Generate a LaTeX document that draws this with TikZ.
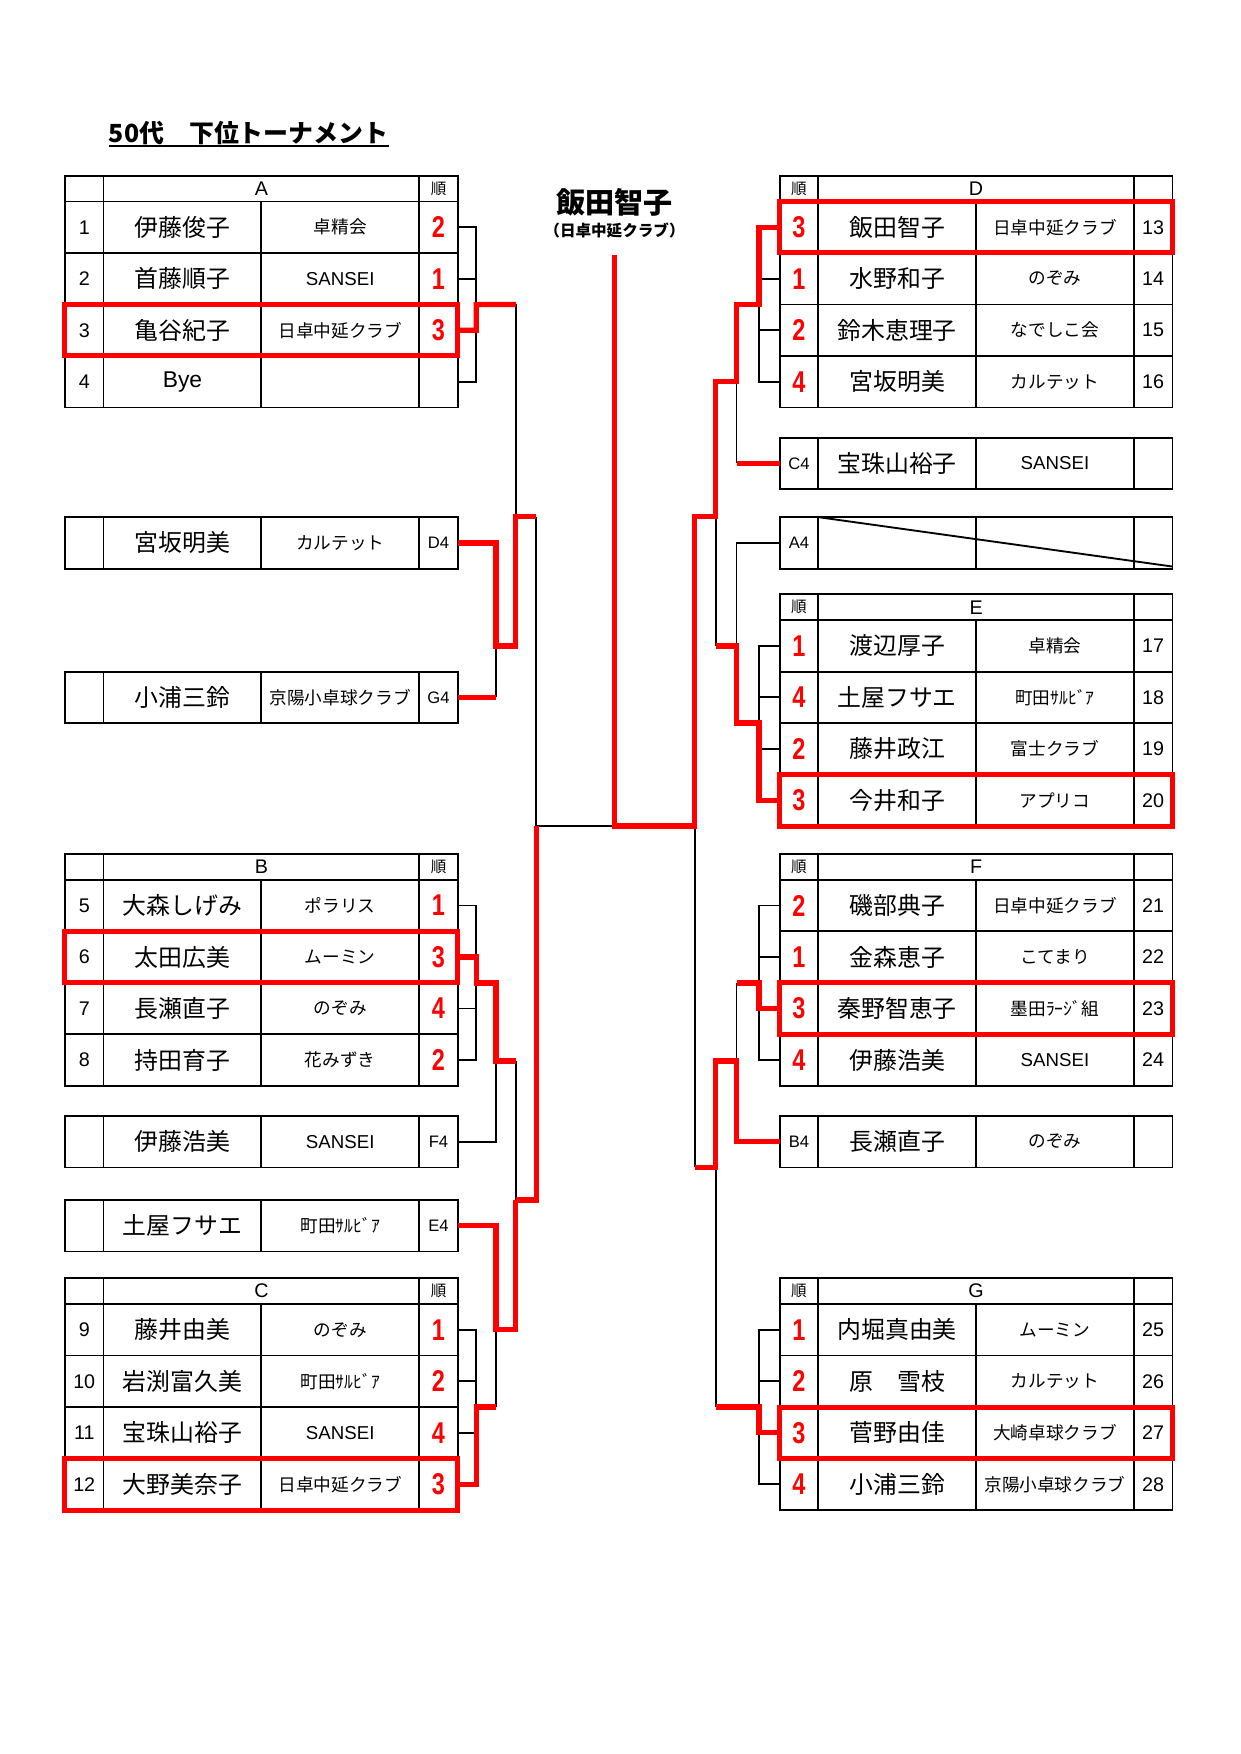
\documentclass[tikz,border=0pt]{standalone}
\usepackage{fontspec}
\setmainfont{Liberation Sans}
\newfontfamily\jp{Noto Sans CJK JP}
\newfontfamily\rk[FakeStretch=0.78]{Liberation Sans}
\usepackage{tikz}
\usetikzlibrary{positioning}
\definecolor{tred}{RGB}{255,0,0}

\begin{document}
\begin{tikzpicture}[x=0.18953mm, y=-0.18953mm]
% -------------------------------------------------
\tikzset{
  cell/.style={draw, line width=0.9pt, inner sep=0pt, outer sep=0pt, minimum height=8.72mm},
  numc/.style={cell, minimum width=6.54mm, font=\fontsize{9.5}{10}\selectfont},
  code/.style={numc, font=\fontsize{8}{9}\selectfont},
  rankc/.style={cell, minimum width=6.54mm, text=tred, font=\rk\bfseries\fontsize{14.5}{15}\selectfont},
  pname/.style={cell, minimum width=26.72mm, font=\jp\fontsize{11.5}{12}\selectfont},
  club/.style={cell, minimum width=26.72mm, font=\jp\fontsize{8.5}{9}\selectfont},
  clubl/.style={club, font=\fontsize{9}{10}\selectfont},
  hdr/.style={cell, minimum height=4.36mm, minimum width=6.54mm, font=\fontsize{9.5}{10}\selectfont},
  hdrwide/.style={hdr, minimum width=53.45mm},
  jun/.style={hdr, font=\jp\fontsize{7.5}{8}\selectfont},
  redbox/.style={draw=tred, line width=2.4pt},
  bline/.style={draw, line width=0.9pt},
  rline/.style={draw=tred, line width=2.6pt},
}
\useasboundingbox (0,0) rectangle (1108,1567);

% title and winner
\node[inner sep=0pt, anchor=base west, font=\jp\bfseries\fontsize{12}{13}\selectfont] (title) at (97,127) {50代　下位トーナメント};
\draw[line width=1pt] ([yshift=-2pt]title.base west) -- ([yshift=-2pt]title.base east);
\node[font=\jp\bfseries\fontsize{14}{14}\selectfont] (champ) at (549,181) {飯田智子};
\node[font=\jp\bfseries\fontsize{7.5}{8}\selectfont] (champc) at (549,206) {（日卓中延クラブ）};

% ---------------- left side ----------------
% A
\node[hdr, anchor=north west] (aH0) at (58,157) {};
\node[hdrwide, right=0pt of aH0] (aH) {A};
\node[jun, right=0pt of aH] (aHr) {順};
\node[numc, below=0pt of aH0] (a1n) {1}; \node[pname, right=0pt of a1n] (a1p) {伊藤俊子}; \node[club, right=0pt of a1p] (a1c) {卓精会}; \node[rankc, right=0pt of a1c] (a1r) {2};
\node[numc, below=0pt of a1n] (a2n) {2}; \node[pname, right=0pt of a2n] (a2p) {首藤順子}; \node[clubl, right=0pt of a2p] (a2c) {SANSEI}; \node[rankc, right=0pt of a2c] (a2r) {1};
\node[numc, below=0pt of a2n] (a3n) {3}; \node[pname, right=0pt of a3n] (a3p) {亀谷紀子}; \node[club, right=0pt of a3p] (a3c) {日卓中延クラブ}; \node[rankc, right=0pt of a3c] (a3r) {3};
\node[numc, below=0pt of a3n] (a4n) {4}; \node[pname, font=\fontsize{11}{12}\selectfont, right=0pt of a4n] (a4p) {Bye}; \node[club, right=0pt of a4p] (a4c) {}; \node[rankc, right=0pt of a4c] (a4r) {};

% single rows
\node[numc, anchor=north west] (sd4x) at (58,462) {}; \node[pname, right=0pt of sd4x] (sd4p) {宮坂明美}; \node[club, right=0pt of sd4p] (sd4c) {カルテット}; \node[code, right=0pt of sd4c] (sd4k) {D4};
\node[numc, anchor=north west] (sg4x) at (58,600) {}; \node[pname, right=0pt of sg4x] (sg4p) {小浦三鈴}; \node[club, right=0pt of sg4p] (sg4c) {京陽小卓球クラブ}; \node[code, right=0pt of sg4c] (sg4k) {G4};

% B
\node[hdr, anchor=north west] (bH0) at (58,763) {};
\node[hdrwide, right=0pt of bH0] (bH) {B};
\node[jun, right=0pt of bH] (bHr) {順};
\node[numc, below=0pt of bH0] (b1n) {5}; \node[pname, right=0pt of b1n] (b1p) {大森しげみ}; \node[club, right=0pt of b1p] (b1c) {ポラリス}; \node[rankc, right=0pt of b1c] (b1r) {1};
\node[numc, below=0pt of b1n] (b2n) {6}; \node[pname, right=0pt of b2n] (b2p) {太田広美}; \node[club, right=0pt of b2p] (b2c) {ムーミン}; \node[rankc, right=0pt of b2c] (b2r) {3};
\node[numc, below=0pt of b2n] (b3n) {7}; \node[pname, right=0pt of b3n] (b3p) {長瀬直子}; \node[club, right=0pt of b3p] (b3c) {のぞみ}; \node[rankc, right=0pt of b3c] (b3r) {4};
\node[numc, below=0pt of b3n] (b4n) {8}; \node[pname, right=0pt of b4n] (b4p) {持田育子}; \node[club, right=0pt of b4p] (b4c) {花みずき}; \node[rankc, right=0pt of b4c] (b4r) {2};

\node[numc, anchor=north west] (sf4x) at (58,997) {}; \node[pname, right=0pt of sf4x] (sf4p) {伊藤浩美}; \node[clubl, right=0pt of sf4p] (sf4c) {SANSEI}; \node[code, right=0pt of sf4c] (sf4k) {F4};
\node[numc, anchor=north west] (se4x) at (58,1072) {}; \node[pname, right=0pt of se4x] (se4p) {土屋フサエ}; \node[club, right=0pt of se4p] (se4c) {町田ｻﾙﾋﾞｱ}; \node[code, right=0pt of se4c] (se4k) {E4};

% C
\node[hdr, anchor=north west] (cH0) at (58,1142) {};
\node[hdrwide, right=0pt of cH0] (cH) {C};
\node[jun, right=0pt of cH] (cHr) {順};
\node[numc, below=0pt of cH0] (c1n) {9}; \node[pname, right=0pt of c1n] (c1p) {藤井由美}; \node[club, right=0pt of c1p] (c1c) {のぞみ}; \node[rankc, right=0pt of c1c] (c1r) {1};
\node[numc, below=0pt of c1n] (c2n) {10}; \node[pname, right=0pt of c2n] (c2p) {岩渕富久美}; \node[club, right=0pt of c2p] (c2c) {町田ｻﾙﾋﾞｱ}; \node[rankc, right=0pt of c2c] (c2r) {2};
\node[numc, below=0pt of c2n] (c3n) {11}; \node[pname, right=0pt of c3n] (c3p) {宝珠山裕子}; \node[clubl, right=0pt of c3p] (c3c) {SANSEI}; \node[rankc, right=0pt of c3c] (c3r) {4};
\node[numc, below=0pt of c3n] (c4n) {12}; \node[pname, right=0pt of c4n] (c4p) {大野美奈子}; \node[club, right=0pt of c4p] (c4c) {日卓中延クラブ}; \node[rankc, right=0pt of c4c] (c4r) {3};

% ---------------- right side ----------------
% D
\node[jun, anchor=north west] (dH0) at (696.5,157) {順};
\node[hdrwide, right=0pt of dH0] (dH) {D};
\node[hdr, right=0pt of dH] (dHn) {};
\node[rankc, below=0pt of dH0] (d1r) {3}; \node[pname, right=0pt of d1r] (d1p) {飯田智子}; \node[club, right=0pt of d1p] (d1c) {日卓中延クラブ}; \node[numc, right=0pt of d1c] (d1n) {13};
\node[rankc, below=0pt of d1r] (d2r) {1}; \node[pname, right=0pt of d2r] (d2p) {水野和子}; \node[club, right=0pt of d2p] (d2c) {のぞみ}; \node[numc, right=0pt of d2c] (d2n) {14};
\node[rankc, below=0pt of d2r] (d3r) {2}; \node[pname, right=0pt of d3r] (d3p) {鈴木恵理子}; \node[club, right=0pt of d3p] (d3c) {なでしこ会}; \node[numc, right=0pt of d3c] (d3n) {15};
\node[rankc, below=0pt of d3r] (d4r) {4}; \node[pname, right=0pt of d4r] (d4p) {宮坂明美}; \node[club, right=0pt of d4p] (d4c) {カルテット}; \node[numc, right=0pt of d4c] (d4n) {16};

\node[code, anchor=north west] (sc4k) at (696.5,391) {C4}; \node[pname, right=0pt of sc4k] (sc4p) {宝珠山裕子}; \node[clubl, right=0pt of sc4p] (sc4c) {SANSEI}; \node[numc, right=0pt of sc4c] (sc4x) {};
\node[code, anchor=north west] (sa4k) at (696.5,462) {A4}; \node[pname, right=0pt of sa4k] (sa4p) {}; \node[club, right=0pt of sa4p] (sa4c) {}; \node[numc, right=0pt of sa4c] (sa4x) {};
\draw[bline] (sa4p.north west) -- ([yshift=1pt]sa4x.south east);

% E
\node[jun, anchor=north west] (eH0) at (696.5,531) {順};
\node[hdrwide, right=0pt of eH0] (eH) {E};
\node[hdr, right=0pt of eH] (eHn) {};
\node[rankc, below=0pt of eH0] (e1r) {1}; \node[pname, right=0pt of e1r] (e1p) {渡辺厚子}; \node[club, right=0pt of e1p] (e1c) {卓精会}; \node[numc, right=0pt of e1c] (e1n) {17};
\node[rankc, below=0pt of e1r] (e2r) {4}; \node[pname, right=0pt of e2r] (e2p) {土屋フサエ}; \node[club, right=0pt of e2p] (e2c) {町田ｻﾙﾋﾞｱ}; \node[numc, right=0pt of e2c] (e2n) {18};
\node[rankc, below=0pt of e2r] (e3r) {2}; \node[pname, right=0pt of e3r] (e3p) {藤井政江}; \node[club, right=0pt of e3p] (e3c) {富士クラブ}; \node[numc, right=0pt of e3c] (e3n) {19};
\node[rankc, below=0pt of e3r] (e4r) {3}; \node[pname, right=0pt of e4r] (e4p) {今井和子}; \node[club, right=0pt of e4p] (e4c) {アプリコ}; \node[numc, right=0pt of e4c] (e4n) {20};

% F
\node[jun, anchor=north west] (fH0) at (696.5,763) {順};
\node[hdrwide, right=0pt of fH0] (fH) {F};
\node[hdr, right=0pt of fH] (fHn) {};
\node[rankc, below=0pt of fH0] (f1r) {2}; \node[pname, right=0pt of f1r] (f1p) {磯部典子}; \node[club, right=0pt of f1p] (f1c) {日卓中延クラブ}; \node[numc, right=0pt of f1c] (f1n) {21};
\node[rankc, below=0pt of f1r] (f2r) {1}; \node[pname, right=0pt of f2r] (f2p) {金森恵子}; \node[club, right=0pt of f2p] (f2c) {こてまり}; \node[numc, right=0pt of f2c] (f2n) {22};
\node[rankc, below=0pt of f2r] (f3r) {3}; \node[pname, right=0pt of f3r] (f3p) {秦野智恵子}; \node[club, right=0pt of f3p] (f3c) {墨田ﾗｰｼﾞ組}; \node[numc, right=0pt of f3c] (f3n) {23};
\node[rankc, below=0pt of f3r] (f4r) {4}; \node[pname, right=0pt of f4r] (f4p) {伊藤浩美}; \node[clubl, right=0pt of f4p] (f4c) {SANSEI}; \node[numc, right=0pt of f4c] (f4n) {24};

\node[code, anchor=north west] (sb4k) at (696.5,997) {B4}; \node[pname, right=0pt of sb4k] (sb4p) {長瀬直子}; \node[club, right=0pt of sb4p] (sb4c) {のぞみ}; \node[numc, right=0pt of sb4c] (sb4x) {};

% G
\node[jun, anchor=north west] (gH0) at (696.5,1142) {順};
\node[hdrwide, right=0pt of gH0] (gH) {G};
\node[hdr, right=0pt of gH] (gHn) {};
\node[rankc, below=0pt of gH0] (g1r) {1}; \node[pname, right=0pt of g1r] (g1p) {内堀真由美}; \node[club, right=0pt of g1p] (g1c) {ムーミン}; \node[numc, right=0pt of g1c] (g1n) {25};
\node[rankc, below=0pt of g1r] (g2r) {2}; \node[pname, right=0pt of g2r] (g2p) {原　雪枝}; \node[club, right=0pt of g2p] (g2c) {カルテット}; \node[numc, right=0pt of g2c] (g2n) {26};
\node[rankc, below=0pt of g2r] (g3r) {3}; \node[pname, right=0pt of g3r] (g3p) {菅野由佳}; \node[club, right=0pt of g3p] (g3c) {大崎卓球クラブ}; \node[numc, right=0pt of g3c] (g3n) {27};
\node[rankc, below=0pt of g3r] (g4r) {4}; \node[pname, right=0pt of g4r] (g4p) {小浦三鈴}; \node[club, right=0pt of g4p] (g4c) {京陽小卓球クラブ}; \node[numc, right=0pt of g4c] (g4n) {28};

% ---------------- bracket ----------------
\coordinate (lA) at (425.5,0);
\coordinate (lB) at (443,0);
\coordinate (rH) at (678,0);
\coordinate (rG) at (658,0);
\coordinate (top) at (549,228);
\coordinate (fin) at (549,738);
\coordinate (jA) at (460.8,272);
\coordinate (jDG) at (460.8,577);
\coordinate (jU) at (479.2,461.5);
\coordinate (jB) at (460.8,948);
\coordinate (jL) at (479.2,1072);
\coordinate (jEC) at (460.8,1188);
\coordinate (jD) at (639.4,341);
\coordinate (jR) at (620.6,461.5);
\coordinate (jE) at (658,577);
\coordinate (jF) at (639.4,1043);
\coordinate (jFB) at (658,948);

% black lines
\draw[bline] (a1r.east) -- (a1r.east -| lA) -- (lA |- a4r.east) -- (a4r.east);
\draw[bline] (a2r.east) -- (a2r.east -| lA);
\draw[bline] (jA) -- (jA |- jU);
\draw[bline] (sg4k.east -| lB) -- (lB |- jDG);
\draw[bline] (jU) -- (jU |- fin) -- (fin);
\draw[bline] (b1r.east) -- (b1r.east -| lA) -- (lA |- b4r.east) -- (b4r.east);
\draw[bline] (b3r.east) -- (b3r.east -| lA);
\draw[bline] (lB |- jB) |- (sf4k.east);
\draw[bline] (jB) -- (jB |- jL);
\draw[bline] (lB |- jEC) -- (lB |- c2r.south);
\draw[bline] (c1r.east) -- (c1r.east -| lA) -- (lA |- c4r.east);
\draw[bline] (c2r.east) -- (c2r.east -| lA);
\draw[bline] (c3r.east) -- (c3r.east -| lA);

\draw[bline] (d1r.west -| rH) -- (rH |- d4r.west) -- (d4r.west);
\draw[bline] (d2r.west) -- (d2r.west -| rH);
\draw[bline] (d3r.west) -- (d3r.west -| rH);
\draw[bline] (rG |- jD) -- (rG |- sc4k.west);
\draw[bline] (jD |- jR) -- (jD |- jE);
\draw[bline] (sa4k.west) -| (jE);
\draw[bline] (e1r.west) -| (rH |- e4r.west);
\draw[bline] (e2r.west) -- (e2r.west -| rH);
\draw[bline] (e3r.west) -- (e3r.west -| rH);
\draw[bline] (jR |- fin) -- (jR |- jF);
\draw[bline] (f1r.west) -| (rH |- f4r.west) -- (f4r.west);
\draw[bline] (f2r.west) -- (f2r.west -| rH);
\draw[bline] (rG |- f2r.south) -- (jFB);
\draw[bline] (jF) -- (jF |- g2r.south);
\draw[bline] (g1r.west) -| (rH |- g4r.west) -- (g4r.west);
\draw[bline] (g2r.west) -- (g2r.west -| rH);

% red lines
\draw[rline] (a3r.east) -| (lA |- a2r.south) -- (jA);
\draw[rline] (sd4k.east) -| (lB |- jDG) -- (jDG) -- (jDG |- jU) -- (jU);
\draw[rline] (sg4k.east) -- (sg4k.east -| lB);
\draw[rline] (b2r.east) -| (lA |- b2r.south) -| (lB |- jB) -- (jB);
\draw[rline] (jB |- jL) -- (jL) -- (jL |- fin);
\draw[rline] (se4k.east) -| (lB |- jEC) -- (jEC) -- (jEC |- jL);
\draw[rline] (c4r.east) -| (lA |- c2r.south) -- (lB |- c2r.south);

\draw[rline] (d1r.west) -| (rH |- d2r.south) -| (rG |- jD) -- (jD) -- (jD |- jR) -- (jR) -- (jR |- fin) -- (fin) -- (top);
\draw[rline] (sc4k.west) -- (sc4k.west -| rG);
\draw[rline] (jD |- jE) -- (jE) |- (rH |- e2r.south) |- (e4r.west);
\draw[rline] (f3r.west) -| (rH |- f2r.south) -- (rG |- f2r.south);
\draw[rline] (sb4k.west) -| (jFB) -- (jF |- jFB) -- (jF) -- (jR |- jF);
\draw[rline] (jF |- g2r.south) -| (rH |- g3r.west) -- (g3r.west);

% red boxes
\draw[redbox] (a3n.north west) rectangle (a3r.south east);
\draw[redbox] (b2n.north west) rectangle (b2r.south east);
\draw[redbox] (c4n.north west) rectangle (c4r.south east);
\draw[redbox] (d1r.north west) rectangle (d1n.south east);
\draw[redbox] (e4r.north west) rectangle (e4n.south east);
\draw[redbox] (f3r.north west) rectangle (f3n.south east);
\draw[redbox] (g3r.north west) rectangle (g3n.south east);

\end{tikzpicture}
\end{document}
